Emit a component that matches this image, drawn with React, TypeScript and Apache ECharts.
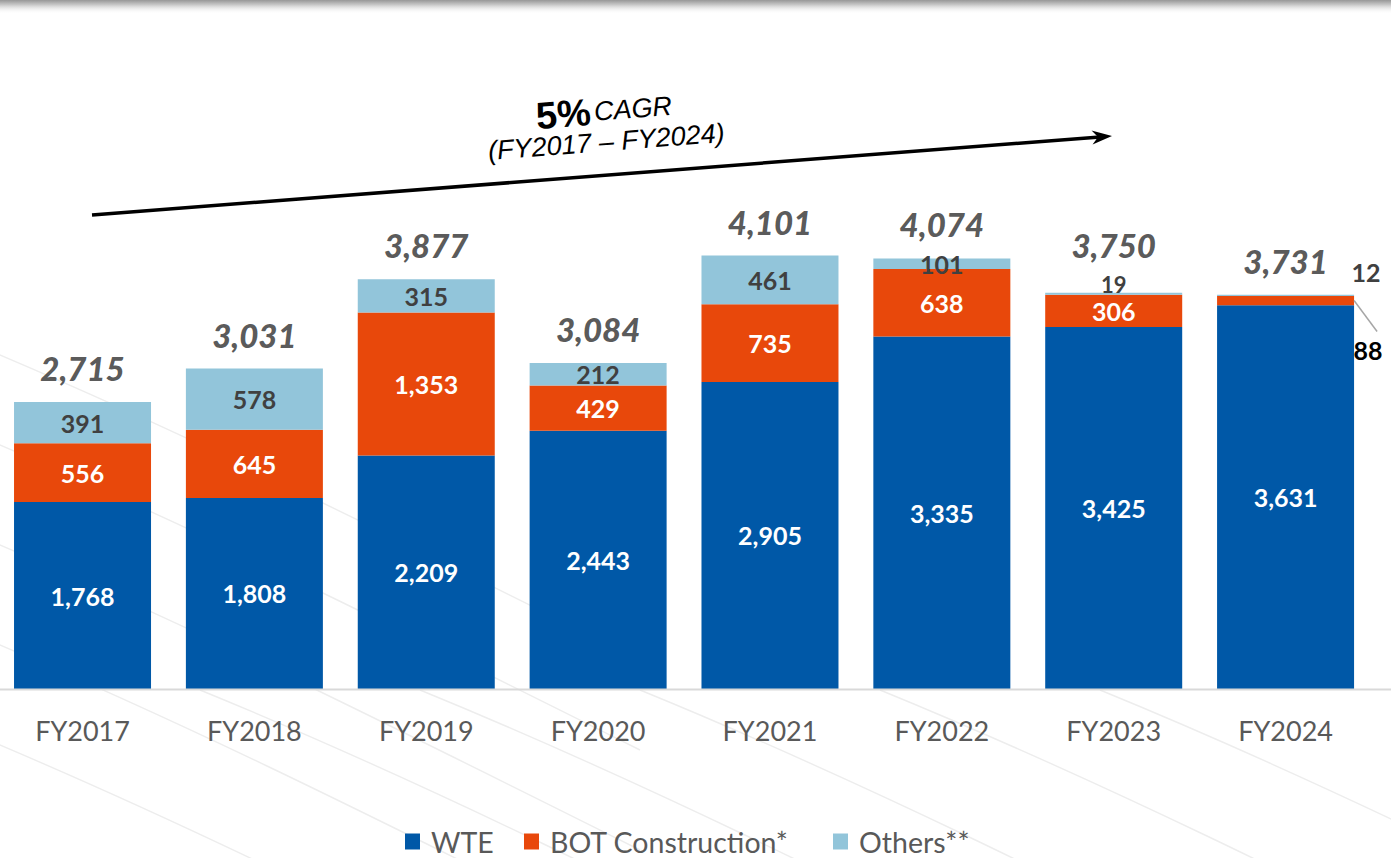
import React, { useEffect, useRef } from "react";
import * as echarts from "echarts";

const categories = ["FY2017", "FY2018", "FY2019", "FY2020", "FY2021", "FY2022", "FY2023", "FY2024"];
const wte = [1768, 1808, 2209, 2443, 2905, 3335, 3425, 3631];
const bot = [556, 645, 1353, 429, 735, 638, 306, 88];
const others = [391, 578, 315, 212, 461, 101, 19, 12];
const totals = [2715, 3031, 3877, 3084, 4101, 4074, 3750, 3731];
const seriesNames = ["WTE", "BOT Construction*", "Others**"];
const cagrValue = "5%";
const cagrLabel = "CAGR";
const cagrPeriod = "(FY2017 – FY2024)";

const C_WTE = "#0058A7";
const C_BOT = "#E8480B";
const C_OTH = "#92C5DA";
const FONT = "Lato, 'Noto Sans', sans-serif";
const SHIFT = 4; // container is shifted left by this many px
const fmt = (v: number) => v.toLocaleString("en-US");

export default function App() {
  const ref = useRef<HTMLDivElement>(null);
  useEffect(() => {
    if (!ref.current) return;
    const chart = echarts.init(ref.current, null, { renderer: "svg" });
    const segLabel = (color: string) => ({
      show: true,
      position: "inside",
      color,
      fontFamily: FONT,
      fontWeight: "bold",
      fontSize: 25,
      formatter: (p: any) => fmt(p.value),
    });
    const botData = bot.map((v, i) =>
      i === 7 ? { value: v, label: { offset: [82.5, 49.5], color: "#000" } } : v
    );
    const othData = others.map((v, i) => {
      if (i === 7) return { value: v, label: { offset: [80.5, -23] } };
      if (i === 6) return { value: v, label: { offset: [0, -9.5], fontSize: 22 } };
      return v;
    });
    const totData = totals.map((v, i) => ({
      value: v,
      label: { offset: [0, i === 6 ? -47.6 : -34] },
    }));

    const X = (x: number) => x + SHIFT;

    // decorative background curves
    const curves: any[] = [];
    const starts = [
      [-60, 330], [-60, 420], [-60, 520], [-60, 620], [-60, 720], [200, 690], [420, 690], [640, 690], [880, 690], [1100, 690],
    ];
    starts.forEach((s) => {
      const [x, y] = s;
      curves.push({
        type: "bezierCurve",
        z: -10,
        silent: true,
        shape: {
          x1: X(x), y1: y,
          cpx1: X(x + 220), cpy1: y + 90,
          cpx2: X(x + 420), cpy2: y + 190,
          x2: X(x + 700), y2: y + 330,
        },
        style: { stroke: "#ededed", lineWidth: 1.4, fill: null },
      });
    });

    const legendLefts = [400, 519, 828];
    const legends = seriesNames.map((n, i) => ({
      data: [n],
      left: X(legendLefts[i]),
      top: 822,
      icon: "rect",
      itemWidth: 15,
      itemHeight: 16,
      textStyle: { fontFamily: FONT, fontSize: 28.5, color: "#595959", padding: [0, 0, 0, 6] },
    }));

    chart.setOption({
      animation: false,
      backgroundColor: "#ffffff",
      grid: { left: 0.6, right: 19.5, top: 160.5, bottom: 169 },
      legend: legends,
      xAxis: {
        type: "category",
        data: categories,
        axisLine: { show: false },
        axisTick: { show: false },
        axisLabel: { fontFamily: FONT, fontSize: 27, color: "#595959", margin: 28 },
      },
      yAxis: { type: "value", min: 0, max: 5000, show: false, splitLine: { show: false } },
      series: [
        {
          name: seriesNames[0], type: "bar", stack: "a", barWidth: 137,
          itemStyle: { color: C_WTE }, label: segLabel("#ffffff"), data: wte,
        },
        {
          name: seriesNames[1], type: "bar", stack: "a", barWidth: 137,
          itemStyle: { color: C_BOT }, label: segLabel("#ffffff"), data: botData,
        },
        {
          name: seriesNames[2], type: "bar", stack: "a", barWidth: 137,
          itemStyle: { color: C_OTH }, label: segLabel("#404040"), data: othData,
        },
        {
          name: "Total", type: "scatter", symbolSize: 1, silent: true,
          itemStyle: { color: "transparent" },
          label: {
            show: true, position: "inside", color: "#2e2e2e", fontFamily: FONT,
            fontWeight: 900, fontStyle: "italic", fontSize: 33,
            formatter: (p: any) => fmt(p.value),
          },
          data: totData,
        },
      ],
    });

    const base = chart.convertToPixel({ gridIndex: 0 }, [0, 0]) as number[];
    const p24 = chart.convertToPixel({ gridIndex: 0 }, [7, wte[7] + bot[7] / 2]) as number[];
    const lx = p24[0] + 68.5;
    const ly = p24[1];

    // arrow
    const x1 = X(92), y1 = 215, tx = X(1112), ty = 136;
    const dx = tx - x1, dy = ty - y1, len = Math.hypot(dx, dy);
    const ux = dx / len, uy = dy / len, nx = -uy, ny = ux;
    const hl = 20, hw = 7;
    const bx = tx - hl * ux, by = ty - hl * uy;
    const ang = -Math.atan2(dy, dx);

    chart.setOption({
      graphic: [
        ...curves,
        {
          type: "rect", silent: true, z: 10,
          shape: { x: 0, y: 0, width: 1400, height: 14 },
          style: {
            fill: new echarts.graphic.LinearGradient(0, 0, 0, 1, [
              { offset: 0, color: "#979797" },
              { offset: 0.35, color: "#c9c9c9" },
              { offset: 1, color: "rgba(255,255,255,0)" },
            ]),
          },
        },
        {
          type: "line", silent: true, z: 10,
          shape: { x1: 0, y1: base[1] + 0.5, x2: 1400, y2: base[1] + 0.5 },
          style: { stroke: "#d9d9d9", lineWidth: 2 },
        },
        {
          type: "line", silent: true, z: 10,
          shape: { x1: lx, y1: ly, x2: lx + 23, y2: ly + 31 },
          style: { stroke: "#a6a6a6", lineWidth: 1.5 },
        },
        {
          type: "line", silent: true, z: 10,
          shape: { x1, y1, x2: tx - 12 * ux, y2: ty - 12 * uy },
          style: { stroke: "#000", lineWidth: 3.5 },
        },
        {
          type: "polygon", silent: true, z: 10,
          shape: {
            points: [
              [tx, ty],
              [bx + hw * nx, by + hw * ny],
              [tx - 14 * ux, ty - 14 * uy],
              [bx - hw * nx, by - hw * ny],
            ],
          },
          style: { fill: "#000" },
        },
        {
          type: "group", x: X(605), y: 125, rotation: ang, silent: true, z: 10,
          children: [
            {
              type: "text", x: 0, y: -14,
              style: {
                text: "{a|" + cagrValue + "} {b|" + cagrLabel + "}",
                align: "center", verticalAlign: "middle",
                rich: {
                  a: { fontFamily: "Liberation Sans, Arial", fontWeight: "bold", fontSize: 38, fill: "#000" },
                  b: { fontFamily: "Liberation Sans, Arial", fontStyle: "italic", fontSize: 27, fill: "#000" },
                },
              },
            },
            {
              type: "text", x: 0, y: 17,
              style: {
                text: cagrPeriod, align: "center", verticalAlign: "middle",
                fontFamily: "Liberation Sans, Arial", fontStyle: "italic", fontSize: 27, fill: "#000",
              },
            },
          ],
        },
      ],
    });
    return () => chart.dispose();
  }, []);
  return (
    <div
      ref={ref}
      style={{ position: "absolute", left: -SHIFT, top: 0, width: 1391 + SHIFT, height: 858 }}
    />
  );
}
